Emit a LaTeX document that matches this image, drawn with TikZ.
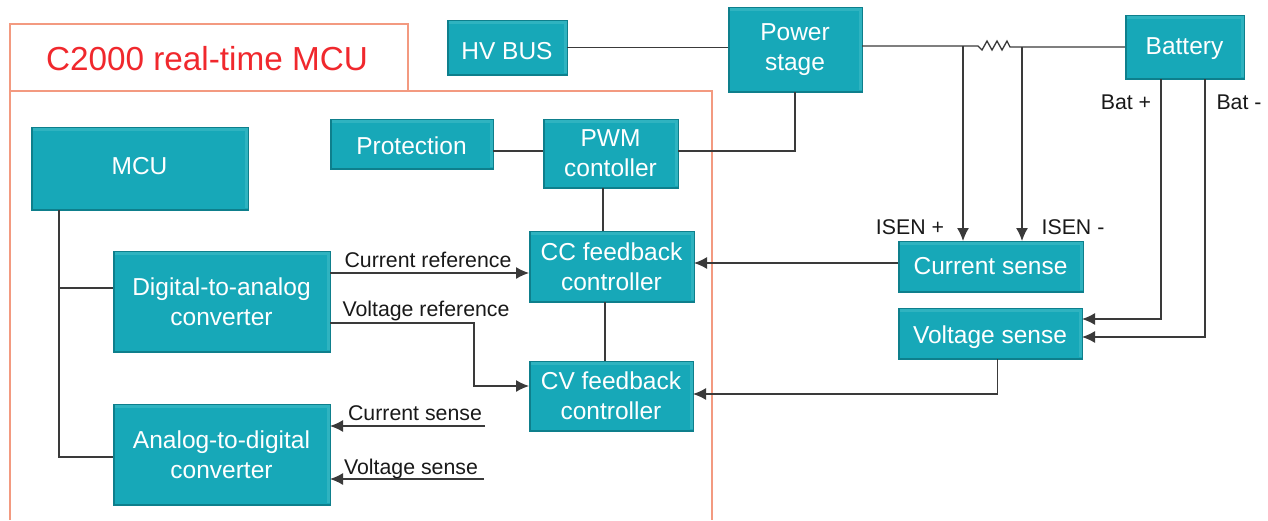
\documentclass[tikz,border=0pt]{standalone}
\usepackage{fontspec}
\setmainfont{Liberation Sans}
\usetikzlibrary{arrows.meta}
\definecolor{boxfill}{HTML}{17A8B8}
\definecolor{boxdark}{HTML}{0E7F8C}
\definecolor{boxlight}{HTML}{2FB3C0}
\definecolor{mcuframe}{HTML}{F39A80}
\definecolor{mcutitle}{HTML}{F0282D}
\definecolor{wirecolor}{HTML}{3A3A3A}
\tikzset{
  block/.style={fill=boxfill,draw=boxdark,line width=1pt,text=white,align=center,
    font=\fontsize{24.5}{30}\selectfont,inner sep=0pt,outer sep=0pt,
    path picture={
      \draw[boxlight,line width=3pt] ([xshift=2pt,yshift=-2pt]path picture bounding box.north west)
        -- ([xshift=-2pt,yshift=-2pt]path picture bounding box.north east)
        -- ([xshift=-2pt,yshift=2pt]path picture bounding box.south east);
      \draw[boxdark,line width=2pt] ([xshift=0.5pt,yshift=-0.5pt]path picture bounding box.north west)
        -- ([xshift=0.5pt,yshift=0.5pt]path picture bounding box.south west)
        -- ([xshift=-0.5pt,yshift=0.5pt]path picture bounding box.south east);
    }},
  baseline drop/.style={text height=2*#1,text depth=0pt},
  wire/.style={wirecolor,line width=1.3pt},
  feed/.style={wire,-{Latex[length=13pt,width=12pt]}},
  tag/.style={text=black!90,font=\fontsize{21.3}{24}\selectfont,inner sep=0pt}
}
\begin{document}
\begin{tikzpicture}[x=1pt,y=-1pt]
\useasboundingbox (0,0) rectangle (1268,520);
% red frames
\draw[mcuframe,line width=1.2pt] (10,91) rectangle (408,24);
\draw[mcuframe,line width=1.2pt] (10,520) -- (10,91) -- (712,91) -- (712,520);
\node[text=mcutitle,font=\fontsize{33.3}{36}\selectfont,inner sep=0pt] (title) at (207,59) {C2000 real-time MCU};
% blocks outside the MCU
\node[block,baseline drop=12pt,minimum width=120,minimum height=55] (hvbus) at (507,47.5) {HV BUS};
\node[block,minimum width=134,minimum height=85] (power) at (795,49.5) {Power\\stage};
\node[block,baseline drop=7.75pt,minimum width=119,minimum height=64] (battery) at (1184.5,47) {Battery};
\node[block,baseline drop=8.25pt,minimum width=185,minimum height=51] (isense) at (990.5,266.5) {Current sense};
\node[block,baseline drop=9.5pt,minimum width=184,minimum height=51] (vsense) at (990,333.5) {Voltage sense};
% blocks inside the MCU
\node[block,baseline drop=6.25pt,minimum width=217,minimum height=83] (mcu) at (139.5,168.5) {MCU};
\node[block,baseline drop=10.75pt,minimum width=163,minimum height=50] (protection) at (411.5,144) {Protection};
\node[block,minimum width=135,minimum height=69] (pwm) at (610.5,153.5) {PWM\\contoller};
\node[block,minimum width=217,minimum height=101] (dac) at (221.5,301.5) {Digital-to-analog\\converter};
\node[block,minimum width=165,minimum height=71] (cc) at (611.5,266.5) {CC feedback\\controller};
\node[block,minimum width=164,minimum height=70] (cv) at (611,396) {CV feedback\\controller};
\node[block,minimum width=217,minimum height=101] (adc) at (221.5,454.5) {Analog-to-digital\\converter};
% free ends
\coordinate (resl) at (978,46);
\coordinate (resr) at (1010,47);
\coordinate (isenin) at (485,426);
\coordinate (vsenin) at (484,479);
% top rail
\draw[wire] (hvbus.east) -- (hvbus.east -| power.west);
\draw[wire] (power.east |- resl) -- (resl) -- ++(4,4) -- ++(5,-9) -- ++(5,9) -- ++(5,-9) -- ++(5,9) -- ++(5,-9) -- (resr) -- (battery.west |- resr);
\draw[feed] (resl -| isense.north) ++(-27.5,0) -- ++(0,195);
\draw[feed] (resr -| isense.north) ++(31.5,0) -- ++(0,194);
% battery to voltage sense
\draw[feed] ([xshift=-23.5]battery.south) -- ++(0,240) -- ([yshift=14.5]vsense.east);
\draw[feed] ([xshift=20.5]battery.south) -- ++(0,258) -- ([yshift=-3.5]vsense.east);
% feedback
\draw[wire] (power.south) -- ++(0,59) -- ([yshift=2.5]pwm.east);
\draw[wire] ([yshift=-7]protection.east) -- ([yshift=2.5]pwm.west);
\draw[wire] ([xshift=-7.5]pwm.south) -- ([xshift=-8.5]cc.north);
\draw[wire] ([xshift=-6.5]cc.south) -- ([xshift=-6]cv.north);
\draw[feed] ([yshift=3.5]isense.west) -- ([yshift=3.5]cc.east);
\draw[feed] ([xshift=7.5]vsense.south) -- ++(0,35) -- ([yshift=2]cv.east);
% MCU to converters
\draw[wire] ([xshift=-80.5]mcu.south) -- ++(0,247) -- ([yshift=-2.5]adc.west);
\draw[wire] ([xshift=-80.5]mcu.south) ++(0,78) -- ([yshift=13.5]dac.west);
\draw[feed] ([yshift=28.5]dac.east) -- ([yshift=-6.5]cc.west);
\draw[feed] ([yshift=-21.5]dac.east) -- ++(144,0) -- ++(0,63) -- ([yshift=10]cv.west);
\draw[feed] (isenin) -- (isenin -| adc.east);
\draw[feed] (vsenin) -- (vsenin -| adc.east);
% labels
\node[tag] (lblcref) at (428,260) {Current reference};
\node[tag] (lblvref) at (426,311) {Voltage reference};
\node[tag] (lblisen) at (415,413) {Current sense};
\node[tag] (lblvsen) at (411,469) {Voltage sense};
\node[tag] (lblisenp) at (910,227) {ISEN +};
\node[tag] (lblisenm) at (1073,227) {ISEN -};
\node[tag] (lblbatp) at (1126,102) {Bat +};
\node[tag] (lblbatm) at (1239,102) {Bat -};
\end{tikzpicture}
\end{document}
